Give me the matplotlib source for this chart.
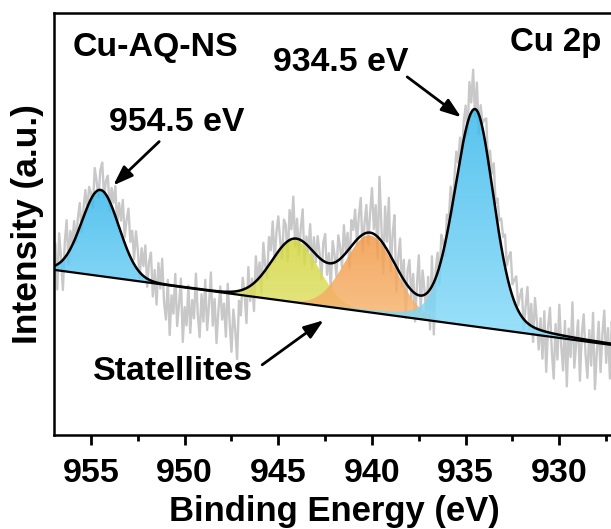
import numpy as np
import matplotlib
matplotlib.use('Agg')
import matplotlib.pyplot as plt
from matplotlib.colors import LinearSegmentedColormap
from matplotlib.patches import Polygon

plt.rcParams['font.family'] = ['Liberation Sans', 'DejaVu Sans']
plt.rcParams['font.weight'] = 'bold'
plt.rcParams['axes.labelweight'] = 'bold'

# Cu 2p scan, 957.0 -> 927.0 eV in 0.1 eV steps.
# Measured counts minus the fitted envelope (a.u.)
residual = [
    -8, 22, -25, 30, 5, -30, 15, 35, -12, 18,
    2, 20, -6, 14, 24, -10, 8, 22, -4, 16,
    6, -12, 25, 10, -8, 20, 28, -5, 14, 22,
    -10, 18, 8, 30, -4, 24, 12, 38, 6, 28,
    44, 15, 30, 5, 36, 20, -6, 26, 10, 32,
    -8, 18, 28, -15, 12, -22, 20, -5, 25, -18,
    -35, 5, -50, -10, -28, 12, -40, -18, 8, -55,
    -20, -38, 2, -45, -12, -30, 15, -25, -48, -5,
    -32, 10, -40, -15, 18, -35, -8, -52, -20, 5,
    -28, -12, -45, 8, -30, -60, -18, -38, -68, -10,
    -25, 12, -5, -35, 20, -15, 6, -28, 25, -2,
    15, -18, 30, 5, -10, 28, 12, 38, -5, 22,
    35, 8, -12, 25, 18, -20, 30, 10, 42, -8,
    20, -15, 12, 32, -22, 8, -5, 24, -18, 15,
    -8, 20, 5, -20, 18, 28, -12, 10, -25, 22,
    8, -15, 25, 12, -10, 30, 2, 18, -20, 26,
    14, 32, -5, 22, 38, -18, 10, 28, -12, 20,
    45, 5, 30, -22, 62, 15, -30, 40, 8, 55,
    -15, 25, 48, -25, 12, 35, -10, 20, -35, 15,
    28, -8, 18, -28, 10, 40, -15, 25, 5, -20,
    15, -40, 30, -52, 8, 20, -18, 25, 10, -12,
    20, 5, 28, -10, 15, 30, 8, 22, -5, 18,
    25, -12, 35, 10, 40, -8, 28, -20, 15, 5,
    18, 30, -5, 22, 12, 35, 8, 25, 15, 28,
    20, 32, 10, 26, 38, 12, 22, 30, 5, 18,
    28, -10, 15, 36, -5, 22, -15, 30, 8, -20,
    12, -28, 20, -40, 5, 25, -18, -45, 10, -25,
    30, -10, -35, 15, -50, 8, -20, 35, -30, -5,
    18, -42, 5, 25, -15, -38, 10, -25, 28, -48,
    -12, 20, -30, 8, 32, -20, 15, -35, 22, -8, 10,
]
scan_start, scan_stop = 957.0, 927.0

# linear background
baseline_energy = [927.0, 957.0]
baseline_level = [90.0, 165.7]

# fitted components: Cu 2p1/2, two satellites, Cu 2p3/2
peak_center = [954.5, 944.1, 940.1, 934.5]
peak_height = [86.0, 62.0, 77.0, 217.5]
peak_sigma_high = [0.985, 1.25, 1.35, 1.10]  # high binding-energy side
peak_sigma_low = [0.985, 1.25, 1.35, 1.00]   # low binding-energy side
peak_mix = [0.0, 0.0, 0.0, 0.22]             # Lorentzian fraction
peak_top = ['#3BB9EC', '#D3D83E', '#F39A48', '#3BB9EC']
peak_bottom = ['#8CDCF9', '#E5E27C', '#F8BE7E', '#8CDCF9']


def component(e, i):
    c = peak_center[i]
    sigma = np.where(e >= c, peak_sigma_high[i], peak_sigma_low[i])
    hwhm = sigma * np.sqrt(2 * np.log(2))
    g = np.exp(-(e - c) ** 2 / (2 * sigma ** 2))
    lor = 1.0 / (1.0 + ((e - c) / hwhm) ** 2)
    return peak_height[i] * ((1 - peak_mix[i]) * g + peak_mix[i] * lor)


def background(e):
    return np.interp(e, baseline_energy, baseline_level)


def envelope(e):
    return background(e) + sum(component(e, i) for i in range(len(peak_center)))


def gradient_fill(ax, x, lower, upper, top, bottom, alpha=0.85):
    verts = np.vstack([np.column_stack([x, upper]),
                       np.column_stack([x[::-1], lower[::-1]])])
    clip = Polygon(verts, closed=True, facecolor='none', edgecolor='none',
                   transform=ax.transData)
    ax.add_patch(clip)
    cmap = LinearSegmentedColormap.from_list('fill', [bottom, top])
    grad = np.linspace(0, 1, 256).reshape(-1, 1)
    im = ax.imshow(grad, cmap=cmap, origin='lower', aspect='auto', alpha=alpha,
                   extent=[x.min(), x.max(), lower.min(), upper.max()], zorder=2)
    im.set_clip_path(clip)


energy = np.linspace(scan_start, scan_stop, len(residual))
counts = envelope(energy) + np.array(residual)
fine = np.linspace(scan_start, scan_stop, 1501)

fig = plt.figure(figsize=(6.11, 5.29), dpi=100)
ax = fig.add_axes([0.0876, 0.1768, 0.9198, 0.7990])

ax.plot(energy, counts, color='#C8C8C8', lw=1.7, zorder=1)
for i in range(len(peak_center)):
    base = background(fine)
    gradient_fill(ax, fine, base, base + component(fine, i), peak_top[i], peak_bottom[i])
ax.plot(fine, background(fine), color='black', lw=1.6, zorder=3)
ax.plot(fine, envelope(fine), color='black', lw=1.8, zorder=4)

arrow = dict(arrowstyle='-|>,head_length=0.7,head_width=0.25', color='black',
             lw=2.0, mutation_scale=17, shrinkA=0, shrinkB=0)
ax.annotate('', xy=(953.81, 250.1), xytext=(951.36, 293.9), arrowprops=arrow)
ax.annotate('', xy=(935.24, 318.2), xytext=(938.12, 358.6), arrowprops=arrow)
ax.annotate('', xy=(942.58, 115.2), xytext=(945.86, 70.7), arrowprops=arrow)

ax.text(951.57, 379.9, 'Cu-AQ-NS', ha='center', va='baseline', fontsize=24.4)
ax.text(941.67, 364.5, '934.5 eV', ha='center', va='baseline', fontsize=24.4)
ax.text(930.22, 384.9, 'Cu 2p', ha='center', va='baseline', fontsize=23.8)
ax.text(950.40, 304.0, '954.5 eV', ha='center', va='baseline', fontsize=24.4)
ax.text(950.60, 55.5, 'Statellites', ha='center', va='baseline', fontsize=24.4)

ax.set_xlim(957, 927)
ax.set_ylim(0, 422.7)
ax.set_xticks([955, 950, 945, 940, 935, 930])
ax.set_xticks(np.arange(952.5, 926, -5), minor=True)
ax.set_yticks([])
ax.tick_params(axis='x', which='major', direction='out', length=7.5, width=2.0,
               labelsize=24.5, pad=9)
ax.tick_params(axis='x', which='minor', direction='out', length=4, width=2.0)
for side in ['left', 'bottom', 'top', 'right']:
    ax.spines[side].set_linewidth(1.8)

ax.set_xlabel('Binding Energy (eV)', fontsize=24.9)
ax.set_ylabel('Intensity (a.u.)', fontsize=25.5)
ax.xaxis.set_label_coords(0.5, -0.141)
ax.yaxis.set_label_coords(-0.0174, 0.5)

fig.savefig('out.png', dpi=100)
